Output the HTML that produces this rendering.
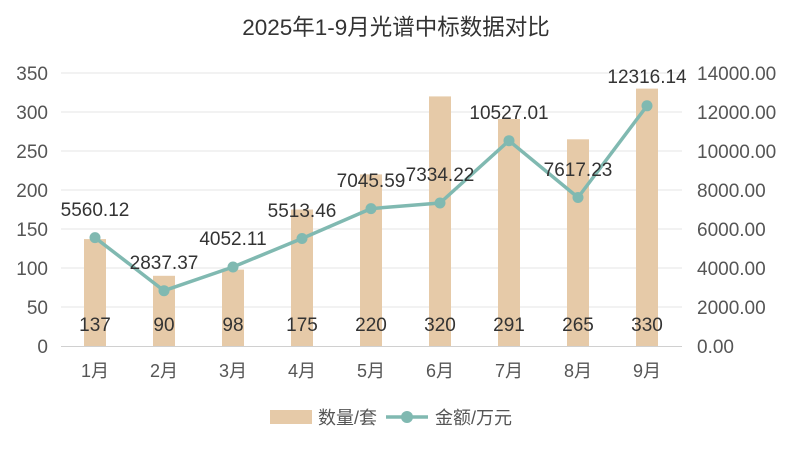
<!DOCTYPE html>
<html><head><meta charset="utf-8"><style>
body{margin:0;background:#fff}
text{font-family:"Liberation Sans","Noto Sans CJK SC",sans-serif}
</style></head><body>
<svg width="792" height="451" viewBox="0 0 792 451" xmlns="http://www.w3.org/2000/svg">
<text x="396" y="35" text-anchor="middle" font-size="22.5" fill="#333">2025年1-9月光谱中标数据对比</text>
<g stroke="#e4e4e4" stroke-width="1">
<line x1="61" x2="682" y1="73" y2="73"/><line x1="61" x2="682" y1="112" y2="112"/>
<line x1="61" x2="682" y1="151" y2="151"/><line x1="61" x2="682" y1="190" y2="190"/>
<line x1="61" x2="682" y1="229" y2="229"/><line x1="61" x2="682" y1="268" y2="268"/>
<line x1="61" x2="682" y1="307" y2="307"/></g>
<line x1="61" x2="682" y1="346.5" y2="346.5" stroke="#d0d0d0"/>
<g font-size="19" fill="#555" text-anchor="end">
<text x="48" y="80">350</text><text x="48" y="119">300</text><text x="48" y="158">250</text>
<text x="48" y="197">200</text><text x="48" y="236">150</text><text x="48" y="275">100</text>
<text x="48" y="314">50</text><text x="48" y="353">0</text></g>
<g font-size="19" fill="#555">
<text x="697" y="80">14000.00</text><text x="697" y="119">12000.00</text><text x="697" y="158">10000.00</text>
<text x="697" y="197">8000.00</text><text x="697" y="236">6000.00</text><text x="697" y="275">4000.00</text>
<text x="697" y="314">2000.00</text><text x="697" y="353">0.00</text></g>
<g fill="#e6caa8">
<rect x="84" y="239.1" width="22" height="106.9"/><rect x="153" y="275.8" width="22" height="70.2"/>
<rect x="222" y="269.6" width="22" height="76.4"/><rect x="291" y="209.5" width="22" height="136.5"/>
<rect x="360" y="174.4" width="22" height="171.6"/><rect x="429" y="96.4" width="22" height="249.6"/>
<rect x="498" y="119" width="22" height="227"/><rect x="567" y="139.3" width="22" height="206.7"/>
<rect x="636" y="88.6" width="22" height="257.4"/></g>
<g font-size="19" fill="#333" text-anchor="middle">
<text x="95" y="331">137</text><text x="164" y="331">90</text><text x="233" y="331">98</text>
<text x="302" y="331">175</text><text x="371" y="331">220</text><text x="440" y="331">320</text>
<text x="509" y="331">291</text><text x="578" y="331">265</text><text x="647" y="331">330</text></g>
<g font-size="18" fill="#555" text-anchor="middle">
<text x="95" y="377">1月</text><text x="164" y="377">2月</text><text x="233" y="377">3月</text>
<text x="302" y="377">4月</text><text x="371" y="377">5月</text><text x="440" y="377">6月</text>
<text x="509" y="377">7月</text><text x="578" y="377">8月</text><text x="647" y="377">9月</text></g>
<polyline fill="none" stroke="#80b9b1" stroke-width="3.5" stroke-linejoin="round"
points="95,237.6 164,290.7 233,267 302,238.5 371,208.6 440,203 509,140.7 578,197.5 647,105.8"/>
<g fill="#80b9b1">
<circle cx="95" cy="237.6" r="5.5"/><circle cx="164" cy="290.7" r="5.5"/><circle cx="233" cy="267" r="5.5"/>
<circle cx="302" cy="238.5" r="5.5"/><circle cx="371" cy="208.6" r="5.5"/><circle cx="440" cy="203" r="5.5"/>
<circle cx="509" cy="140.7" r="5.5"/><circle cx="578" cy="197.5" r="5.5"/><circle cx="647" cy="105.8" r="5.5"/></g>
<g font-size="19" fill="#333" text-anchor="middle">
<text x="95" y="216">5560.12</text><text x="164" y="269">2837.37</text><text x="233" y="245">4052.11</text>
<text x="302" y="217">5513.46</text><text x="371" y="187">7045.59</text><text x="440" y="181">7334.22</text>
<text x="509" y="119">10527.01</text><text x="578" y="176">7617.23</text><text x="647" y="83">12316.14</text></g>
<rect x="270" y="410" width="42" height="14" fill="#e6caa8"/>
<text x="318" y="424" font-size="18" fill="#555">数量/套</text>
<line x1="386" x2="428" y1="417" y2="417" stroke="#80b9b1" stroke-width="3.5"/>
<circle cx="407" cy="417" r="6" fill="#80b9b1"/>
<text x="435" y="424" font-size="18" fill="#555">金额/万元</text>
</svg>
</body></html>
